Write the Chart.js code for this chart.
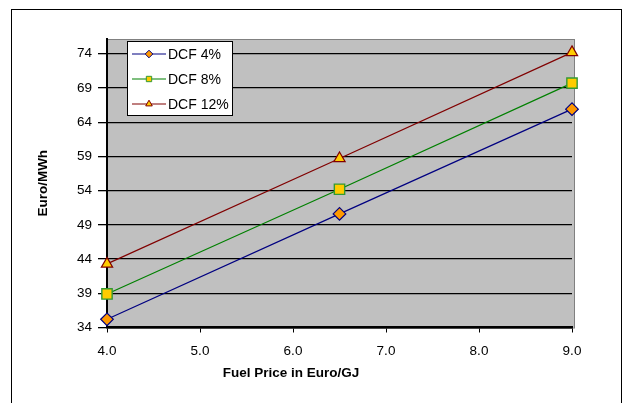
<!DOCTYPE html>
<html>
<head>
<meta charset="utf-8">
<script src="https://cdn.jsdelivr.net/npm/chart.js@4"></script>
<style>
html, body { margin: 0; padding: 0; background: #fff; }
</style>
</head>
<body>
<canvas id="myChart" width="623" height="403"></canvas>
<script>
// values
var fuelPrice = [4.0, 6.5, 9.0];
var dcf4 = [35.2, 50.6, 65.9];
var dcf8 = [38.9, 54.2, 69.7];
var dcf12 = [43.3, 58.7, 74.2];
var seriesLabels = ['DCF 4%', 'DCF 8%', 'DCF 12%'];
var yTicks = [34, 39, 44, 49, 54, 59, 64, 69, 74];
var xTicks = [4, 5, 6, 7, 8, 9];
var xTitle = 'Fuel Price in Euro/GJ';
var yTitle = 'Euro/MWh';

function pts(ys) {
  return fuelPrice.map(function (x, i) { return { x: x, y: ys[i] }; });
}

var FONT = 'Arial, "Liberation Sans", sans-serif';
Chart.defaults.font.family = FONT;
Chart.defaults.font.size = 13.5;
Chart.defaults.color = '#000';

// gray plot area + outer frame, x title sits left of centre like the original
var plotBg = {
  id: 'plotBg',
  beforeDraw: function (chart) {
    var c = chart.ctx, a = chart.chartArea;
    c.save();
    c.fillStyle = '#fff';
    c.fillRect(0, 0, chart.width, chart.height);
    c.strokeStyle = '#000';
    c.lineWidth = 1;
    c.strokeRect(11.5, 9.5, 610, 420);
    c.fillStyle = '#c0c0c0';
    c.fillRect(a.left, a.top, a.right - a.left + 2, a.bottom - a.top);
    c.strokeStyle = '#808080';
    c.strokeRect(a.left + 0.5, a.top + 0.5, a.right - a.left + 2, a.bottom - a.top);
    c.fillStyle = '#000';
    c.font = 'bold 13.5px ' + FONT;
    c.textAlign = 'center';
    c.textBaseline = 'middle';
    c.fillText(xTitle, 291, 373);
    c.restore();
  }
};

// legend box inside the plot
var boxLegend = {
  id: 'boxLegend',
  afterDraw: function (chart) {
    var c = chart.ctx;
    c.save();
    c.fillStyle = '#fff';
    c.fillRect(127, 41, 106, 75);
    c.strokeStyle = '#000';
    c.lineWidth = 1;
    c.strokeRect(127.5, 41.5, 105, 74);
    chart.data.datasets.forEach(function (ds, i) {
      var y = 54 + i * 25;
      c.strokeStyle = ds.borderColor;
      c.lineWidth = 1.2;
      c.beginPath();
      c.moveTo(132, y);
      c.lineTo(166, y);
      c.stroke();
      c.fillStyle = ds.pointBackgroundColor;
      c.strokeStyle = ds.pointBorderColor;
      c.lineWidth = 1;
      Chart.helpers.drawPoint(c, { pointStyle: ds.pointStyle, radius: 3.8, rotation: 0, borderWidth: 1 }, 149, y);
      c.fillStyle = '#000';
      c.font = '14px ' + FONT;
      c.textBaseline = 'middle';
      c.fillText(ds.label, 168, y + 1);
    });
    c.restore();
  }
};

var ctx = document.getElementById('myChart').getContext('2d');
var myChart = new Chart(ctx, {
  type: 'line',
  data: {
    datasets: [{
      label: seriesLabels[0],
      data: pts(dcf4),
      borderColor: '#000080',
      borderWidth: 1.2,
      clip: false,
      pointStyle: 'rectRot',
      pointRadius: 6.3,
      pointBackgroundColor: '#ff9900',
      pointBorderColor: '#000080',
      pointBorderWidth: 1.2
    }, {
      label: seriesLabels[1],
      data: pts(dcf8),
      borderColor: '#008000',
      borderWidth: 1.2,
      clip: false,
      pointStyle: 'rect',
      pointRadius: 7.3,
      pointBackgroundColor: '#ffcc00',
      pointBorderColor: '#339933',
      pointBorderWidth: 1.4
    }, {
      label: seriesLabels[2],
      data: pts(dcf12),
      borderColor: '#800000',
      borderWidth: 1.2,
      clip: false,
      pointStyle: 'triangle',
      pointRadius: 6.5,
      pointBackgroundColor: '#ffcc00',
      pointBorderColor: '#800000',
      pointBorderWidth: 1.2
    }]
  },
  options: {
    responsive: false,
    animation: false,
    devicePixelRatio: 1,
    layout: { padding: { left: 35, right: 51, top: 39, bottom: 0 } },
    plugins: {
      legend: { display: false },
      tooltip: { enabled: false }
    },
    scales: {
      x: {
        type: 'linear',
        min: 4,
        max: 9,
        afterBuildTicks: function (s) { s.ticks = xTicks.map(function (v) { return { value: v }; }); },
        afterFit: function (s) { s.height = 75.5; },
        ticks: {
          padding: 11,
          maxRotation: 0,
          callback: function (v) { return Number(v).toFixed(1); }
        },
        grid: { drawOnChartArea: false, tickColor: '#000', tickLength: 5 },
        border: { color: '#000', width: 2.5 },
        title: { display: false, text: xTitle }
      },
      y: {
        min: 34,
        max: 76.15,
        afterBuildTicks: function (s) { s.ticks = yTicks.map(function (v) { return { value: v }; }); },
        afterFit: function (s) { s.width = 72; },
        ticks: {
          padding: 6,
          callback: function (v) { return v; }
        },
        grid: { color: '#000', lineWidth: 1.3, tickLength: 9 },
        border: { color: '#000', width: 2 },
        title: {
          display: true,
          text: yTitle,
          font: { weight: 'bold', size: 13.5 },
          padding: { top: 0, bottom: 0 }
        }
      }
    }
  },
  plugins: [plotBg, boxLegend]
});
</script>
</body>
</html>
